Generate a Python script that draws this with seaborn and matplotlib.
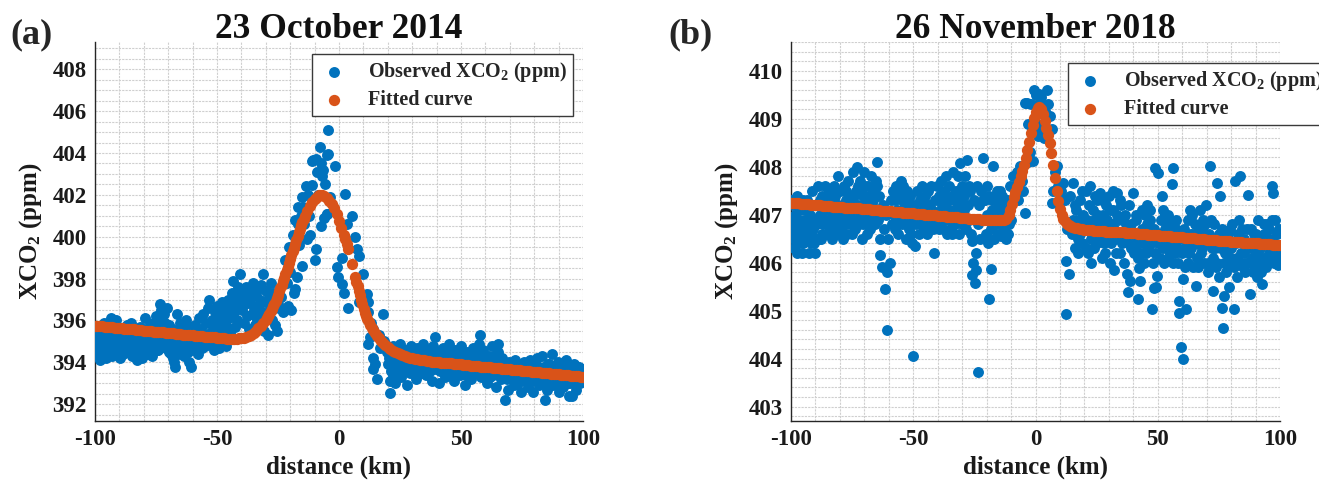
import matplotlib
matplotlib.use("Agg")
import matplotlib.pyplot as plt
from matplotlib.ticker import MultipleLocator
import seaborn as sns

# ---------------- panel (a): 23 October 2014 ----------------
# observed XCO2 soundings (distance km, ppm)
obs_a = [
    (-99.8, 394.6), (-99.5, 395.2), (-99.2, 394.3), (-98.9, 394.9), (-98.6, 395.5), (-98.3, 394.5), (-98.0, 394.1),
    (-97.7, 395.0), (-97.4, 395.7), (-97.1, 394.7), (-96.8, 394.4), (-96.5, 395.3), (-96.2, 395.9), (-95.9, 394.8),
    (-95.6, 394.2), (-95.3, 395.1), (-95.0, 394.6), (-94.7, 395.6), (-94.4, 394.9), (-94.1, 394.4), (-93.8, 395.4),
    (-93.4, 396.1), (-93.2, 395.0), (-92.9, 394.3), (-92.6, 395.8), (-92.3, 394.9), (-92.0, 395.3), (-91.7, 394.5),
    (-91.4, 396.0), (-91.1, 395.0), (-90.8, 394.6), (-90.5, 395.5), (-90.2, 394.8), (-89.9, 394.2), (-89.6, 395.2),
    (-89.3, 394.9), (-89.0, 395.6), (-88.7, 394.4), (-88.4, 395.1), (-88.1, 394.7), (-87.8, 395.4), (-87.5, 395.0),
    (-87.2, 394.5), (-86.9, 395.8), (-86.6, 394.9), (-86.3, 395.3), (-86.0, 394.6), (-85.7, 395.0), (-85.4, 395.9),
    (-85.1, 394.8), (-84.8, 394.3), (-84.5, 395.2), (-84.2, 394.6), (-83.9, 395.5), (-83.6, 394.9), (-83.3, 394.4),
    (-83.0, 395.1), (-82.7, 394.1), (-82.4, 395.4), (-82.1, 394.7), (-81.8, 395.0), (-81.5, 395.7), (-81.2, 394.5),
    (-80.9, 394.2), (-80.6, 395.3), (-80.3, 394.8), (-80.0, 395.5), (-79.7, 394.6), (-79.4, 396.1), (-79.1, 395.1),
    (-78.8, 394.4), (-78.5, 395.6), (-78.2, 394.9), (-77.9, 395.2), (-77.6, 395.8), (-77.3, 394.7), (-77.0, 395.4),
    (-76.7, 394.3), (-76.4, 395.9), (-76.1, 395.0), (-75.8, 394.8), (-75.5, 395.5), (-75.2, 396.2), (-74.9, 394.9),
    (-74.6, 395.3), (-74.3, 395.7), (-74.0, 394.6), (-73.7, 396.0), (-73.4, 396.8), (-73.1, 395.2), (-72.8, 396.5),
    (-72.5, 395.6), (-72.2, 394.9), (-71.9, 396.3), (-71.6, 395.4), (-71.3, 395.9), (-71.0, 394.7), (-70.7, 395.1),
    (-70.4, 396.6), (-70.1, 395.5), (-69.8, 394.5), (-69.5, 395.8), (-69.2, 395.0), (-68.9, 394.4), (-68.6, 394.9),
    (-68.3, 395.6), (-68.0, 394.2), (-67.7, 394.0), (-67.4, 393.8), (-67.1, 395.3), (-66.8, 394.7), (-66.5, 396.3),
    (-66.2, 395.0), (-65.9, 394.4), (-65.6, 395.5), (-65.3, 394.8), (-65.0, 395.9), (-64.7, 394.6), (-64.4, 395.2),
    (-64.1, 395.7), (-63.8, 394.9), (-63.5, 394.3), (-63.2, 395.4), (-62.9, 396.0), (-62.6, 394.7), (-62.3, 395.1),
    (-62.0, 395.6), (-61.7, 394.5), (-61.4, 394.0), (-61.1, 395.3), (-60.8, 393.8), (-60.5, 394.9), (-60.2, 395.7),
    (-99.9, 395.0), (-99.0, 394.8), (-98.1, 395.3), (-97.2, 394.9), (-96.3, 394.6), (-95.4, 395.4), (-94.5, 394.5),
    (-93.6, 394.9), (-92.7, 394.6), (-91.8, 395.1), (-90.9, 395.3), (-90.0, 394.5), (-89.1, 394.7), (-88.2, 395.3),
    (-87.3, 394.8), (-86.4, 395.1), (-85.5, 394.6), (-84.6, 395.0), (-83.7, 395.2), (-82.8, 394.8), (-81.9, 395.3),
    (-81.0, 394.9), (-80.1, 394.4), (-79.2, 395.4), (-78.3, 395.0), (-77.4, 394.5), (-76.5, 395.1), (-75.6, 395.2),
    (-74.7, 394.6), (-73.8, 395.4), (-72.9, 395.0), (-72.0, 395.5), (-71.1, 395.2), (-70.2, 394.9), (-69.3, 395.3),
    (-68.4, 395.2), (-67.5, 394.6), (-66.6, 395.1), (-65.7, 394.6), (-64.8, 395.0), (-63.9, 395.5), (-63.0, 394.6),
    (-62.1, 394.9), (-61.2, 395.0),
    (-59.8, 395.2), (-59.4, 394.6), (-59.0, 395.8), (-58.6, 394.9), (-58.2, 395.5), (-57.8, 394.4), (-57.4, 396.1),
    (-57.0, 395.0), (-56.6, 395.6), (-56.2, 394.7), (-55.8, 396.3), (-55.4, 395.3), (-55.0, 394.8), (-54.6, 395.9),
    (-54.2, 395.1), (-53.8, 396.6), (-53.4, 397.0), (-53.0, 395.4), (-52.6, 394.9), (-52.2, 396.0), (-51.8, 395.6),
    (-51.4, 394.6), (-51.0, 396.4), (-50.6, 395.2), (-50.2, 395.8), (-49.8, 396.7), (-49.4, 395.0), (-49.0, 394.7),
    (-48.6, 396.2), (-48.2, 395.5), (-47.8, 396.9), (-47.4, 395.9), (-47.0, 395.3), (-46.6, 396.5), (-46.2, 394.8),
    (-45.8, 395.7), (-45.4, 397.0), (-45.0, 396.1), (-44.6, 395.4), (-44.2, 396.8), (-43.8, 397.3), (-43.4, 397.9),
    (-43.0, 396.4), (-42.6, 395.7), (-42.2, 397.1), (-41.8, 396.0), (-41.4, 397.6), (-41.0, 396.7), (-40.6, 398.2),
    (-40.2, 397.0), (-39.8, 396.5), (-39.4, 397.3), (-39.0, 395.9), (-38.6, 396.8), (-38.2, 397.6), (-37.8, 396.2),
    (-37.4, 397.0), (-37.0, 395.6), (-36.6, 396.9), (-36.2, 397.4), (-35.8, 396.3), (-35.4, 397.8), (-35.0, 396.6),
    (-34.6, 395.8), (-34.2, 397.2), (-33.8, 396.0), (-33.4, 397.5), (-33.0, 396.7), (-32.6, 396.1), (-32.2, 397.0),
    (-31.8, 397.7), (-31.4, 396.4), (-31.0, 398.2), (-30.6, 395.5), (-30.2, 396.9), (-29.8, 397.4), (-29.4, 396.2),
    (-29.0, 395.3), (-28.6, 397.1), (-28.2, 396.5), (-27.8, 397.8), (-27.4, 396.0), (-27.0, 397.3), (-26.6, 396.6),
    (-26.2, 395.8), (-25.8, 397.0), (-25.4, 395.5), (-25.0, 396.8), (-24.4, 396.6), (-23.8, 397.1), (-22.9, 396.4),
    (-22.1, 398.9), (-21.5, 397.8), (-21.0, 396.7), (-20.5, 399.5), (-20.0, 398.3), (-19.7, 396.5), (-19.0, 400.1),
    (-18.6, 397.3), (-18.2, 400.8), (-17.9, 397.5), (-17.4, 398.1), (-17.0, 400.6), (-16.6, 401.4), (-16.2, 399.6),
    (-15.7, 401.0), (-15.1, 401.9), (-15.0, 398.6), (-14.6, 401.4), (-14.5, 400.6), (-13.4, 402.4), (-13.0, 399.9),
    (-12.6, 402.0), (-12.3, 401.0), (-11.9, 400.1), (-11.2, 402.45), (-11.1, 403.6), (-10.5, 403.65), (-10.0, 398.9),
    (-9.5, 403.7), (-9.5, 399.4), (-9.0, 403.1), (-8.6, 402.0), (-7.9, 404.3), (-7.5, 403.5), (-7.2, 400.5),
    (-6.8, 402.9), (-6.4, 403.2), (-6.2, 400.9), (-5.9, 402.5), (-5.0, 401.1), (-4.8, 403.9), (-4.8, 401.1),
    (-4.4, 405.1), (-4.4, 403.97), (-3.5, 401.9), (-1.6, 403.4), (-0.9, 398.55), (-0.5, 398.1), (1.4, 397.75),
    (2.2, 397.3), (3.8, 396.6), (1.4, 399.0), (2.5, 402.05), (3.2, 400.6), (5.2, 401.0), (6.6, 400.0),
    (8.4, 399.1), (7.5, 399.4), (9.8, 398.22), (8.4, 396.9), (11.6, 397.27), (12.0, 396.9), (12.0, 396.4),
    (13.0, 395.9), (14.0, 395.6), (17.9, 396.3), (12.0, 394.9), (12.8, 395.2), (14.0, 394.23), (14.6, 393.9),
    (14.0, 393.7), (15.6, 393.2), (16.5, 395.3), (17.0, 394.7), (18.5, 395.0), (19.5, 394.5), (21.0, 393.12),
    (21.0, 392.56), (22.0, 393.4), (20.0, 393.9),
    (20.5, 394.2), (21.5, 393.6), (22.3, 394.8), (23.0, 393.0), (23.6, 394.5), (24.2, 393.8), (24.8, 394.9),
    (25.4, 393.3), (26.0, 394.3), (26.6, 393.7), (27.2, 394.6), (27.8, 392.9), (28.4, 394.1), (29.0, 393.5),
    (29.6, 394.8), (30.2, 393.9), (30.8, 394.4), (31.4, 393.2), (32.0, 394.7), (32.6, 393.8), (33.2, 394.2),
    (33.8, 393.5), (34.4, 394.9), (35.0, 394.0), (35.6, 393.4), (36.2, 394.6), (36.8, 393.9), (37.4, 394.3),
    (38.0, 393.1), (38.6, 394.8), (39.3, 395.2), (39.8, 393.7), (40.4, 394.5), (41.0, 393.0), (41.6, 394.1),
    (42.2, 393.6), (42.8, 394.7), (43.4, 393.3), (44.0, 394.4), (44.6, 393.9), (45.2, 394.9), (45.8, 393.5),
    (46.4, 394.2), (47.0, 393.1), (47.6, 394.6), (48.2, 393.8), (48.8, 394.3), (49.4, 393.4), (50.0, 394.8),
    (50.6, 393.7), (51.2, 394.0), (51.8, 392.9), (52.4, 394.5), (53.0, 393.6), (53.6, 394.2), (54.2, 393.2),
    (54.8, 394.7), (55.4, 393.9), (56.0, 394.4), (56.6, 393.5), (57.2, 394.9), (57.8, 395.3), (58.4, 393.3),
    (59.0, 394.6), (59.6, 393.8), (60.2, 394.1), (60.8, 393.0), (61.4, 394.3), (62.0, 393.6), (62.6, 394.8),
    (63.2, 393.4), (63.8, 394.0), (64.4, 392.8), (65.0, 394.5), (65.3, 394.9), (65.8, 393.7), (66.4, 393.2),
    (67.0, 394.2), (67.6, 393.5), (68.0, 392.2), (68.6, 393.9), (69.2, 392.7), (69.8, 394.0), (70.4, 393.3),
    (71.0, 393.8), (71.6, 392.9), (72.2, 394.1), (72.8, 393.4), (73.4, 393.0), (74.0, 393.9), (74.6, 392.6),
    (75.2, 393.6), (75.8, 394.0), (76.4, 393.1), (77.0, 393.7), (77.6, 392.8), (78.2, 394.1), (78.8, 393.3),
    (79.4, 392.6), (80.0, 393.8), (80.6, 393.2), (81.2, 394.2), (81.8, 392.9), (82.4, 393.5), (83.0, 394.3),
    (83.6, 393.0), (84.4, 392.2), (84.8, 393.6), (85.4, 392.7), (86.0, 393.9), (86.6, 393.3), (87.2, 394.4),
    (87.8, 392.9), (88.4, 393.6), (89.0, 393.1), (89.6, 394.0), (90.2, 392.6), (90.8, 393.4), (91.4, 393.8),
    (92.0, 392.8), (92.6, 393.5), (93.2, 394.1), (93.8, 393.0), (94.4, 392.4), (95.0, 393.7), (95.3, 392.4),
    (95.8, 393.2), (96.4, 393.9), (97.0, 392.7), (97.6, 393.4), (98.2, 393.8), (98.8, 393.0), (99.4, 393.6),
    (99.8, 393.2),
    (20.8, 394.0), (21.8, 394.4), (22.7, 393.7), (23.3, 394.2), (24.5, 393.5), (25.1, 394.6), (25.7, 394.0),
    (26.3, 393.6), (26.9, 394.4), (27.5, 393.9), (28.1, 394.5), (28.7, 393.8), (29.3, 394.3), (29.9, 393.6),
    (30.5, 394.1), (31.1, 394.6), (31.7, 393.9), (32.3, 393.5), (32.9, 394.4), (33.5, 393.9), (34.1, 394.3),
    (34.7, 393.7), (35.3, 394.5), (35.9, 393.9), (36.5, 394.2), (37.1, 393.6), (37.7, 394.5), (38.3, 393.9),
    (39.0, 394.3), (40.1, 393.9), (40.7, 394.2), (41.3, 393.6), (41.9, 394.4), (42.5, 393.9), (43.1, 394.2),
    (43.7, 393.7), (44.3, 394.1), (44.9, 393.5), (45.5, 394.3), (46.1, 393.8), (46.7, 394.5), (47.3, 393.7),
    (47.9, 394.1), (48.5, 393.6), (49.1, 394.0), (49.7, 393.5), (50.3, 394.2), (50.9, 393.9), (51.5, 394.4),
    (52.1, 393.4), (52.7, 393.9), (53.3, 394.4), (53.9, 393.8), (54.5, 394.0), (55.1, 393.5), (55.7, 394.2),
    (56.3, 393.8), (56.9, 394.1), (57.5, 393.6), (58.1, 394.3), (58.7, 393.9), (59.3, 393.5), (59.9, 394.3),
    (60.5, 393.6), (61.1, 393.9), (61.7, 393.3), (62.3, 394.0), (62.9, 393.7), (63.5, 394.3), (64.1, 393.5),
    (64.7, 393.9), (65.5, 393.4), (66.1, 394.0), (66.7, 393.6), (67.3, 393.9), (67.9, 393.4), (68.3, 393.7),
    (68.9, 393.2), (69.5, 393.6), (70.1, 393.9), (70.7, 393.5), (71.3, 393.2), (71.9, 393.7), (72.5, 393.9),
    (73.1, 393.5), (73.7, 393.3), (74.3, 393.8), (74.9, 393.4), (75.5, 393.9), (76.1, 393.5), (76.7, 393.2),
    (77.3, 393.6), (77.9, 393.9), (78.5, 393.5), (79.1, 393.1), (79.7, 393.6), (80.3, 393.9), (80.9, 393.5),
    (81.5, 393.3), (82.1, 393.8), (82.7, 393.1), (83.3, 393.6), (83.9, 393.8), (84.1, 393.2), (85.1, 393.4),
    (85.7, 393.9), (86.3, 393.0), (86.9, 393.6), (87.5, 393.2), (88.1, 393.8), (88.7, 393.3), (89.3, 393.6),
    (89.9, 393.0), (90.5, 393.7), (91.1, 393.1), (91.7, 393.5), (92.3, 393.9), (92.9, 393.2), (93.5, 393.6),
    (94.1, 393.3), (94.7, 393.0), (95.6, 393.5), (96.1, 393.1), (96.7, 393.6), (97.3, 393.2), (97.9, 393.0),
    (98.5, 393.5), (99.1, 393.2), (99.6, 393.7),
]

# fitted plume curve (distance km, ppm)
fit_a = [
    (-100, 395.75), (-99, 395.74), (-98, 395.73), (-97, 395.72), (-96, 395.70), (-95, 395.69), (-94, 395.68),
    (-93, 395.67), (-92, 395.66), (-91, 395.65), (-90, 395.64), (-89, 395.62), (-88, 395.61), (-87, 395.60),
    (-86, 395.59), (-85, 395.58), (-84, 395.57), (-83, 395.55), (-82, 395.54), (-81, 395.53), (-80, 395.52),
    (-79, 395.51), (-78, 395.50), (-77, 395.49), (-76, 395.47), (-75, 395.46), (-74, 395.45), (-73, 395.44),
    (-72, 395.43), (-71, 395.42), (-70, 395.40), (-69, 395.39), (-68, 395.38), (-67, 395.37), (-66, 395.36),
    (-65, 395.35), (-64, 395.33), (-63, 395.32), (-62, 395.31), (-61, 395.30), (-60, 395.29), (-59, 395.28),
    (-58, 395.27), (-57, 395.25), (-56, 395.24), (-55, 395.23), (-54, 395.22), (-53, 395.21), (-52, 395.20),
    (-51, 395.19), (-50, 395.17), (-49, 395.16), (-48, 395.15), (-47, 395.14), (-46, 395.13), (-45, 395.12),
    (-44, 395.12), (-43, 395.12), (-42, 395.13), (-41, 395.14), (-40, 395.15), (-39, 395.17), (-38, 395.20),
    (-37, 395.25), (-36, 395.32), (-35, 395.41), (-34, 395.51), (-33, 395.62), (-32, 395.74), (-31, 395.87),
    (-30, 396.03), (-29.5, 396.12), (-29, 396.22), (-28.5, 396.33), (-28, 396.44), (-27.5, 396.56), (-27, 396.68),
    (-26.5, 396.81), (-26, 396.95), (-25.5, 397.09), (-25, 397.24), (-24.5, 397.39), (-24, 397.55),
    (-23.5, 397.71), (-23, 397.88), (-22.5, 398.05), (-22, 398.22), (-21.5, 398.39), (-21, 398.57),
    (-20.5, 398.75), (-20, 398.93), (-19.5, 399.11), (-19, 399.30), (-18.5, 399.48), (-18, 399.67),
    (-17.5, 399.85), (-17, 400.03), (-16.5, 400.21), (-16, 400.38), (-15.5, 400.54), (-15, 400.70),
    (-14.5, 400.85), (-14, 400.99), (-13, 401.25), (-12, 401.47), (-11, 401.65), (-10, 401.80), (-9, 401.91),
    (-8, 401.97), (-7, 401.99), (-6, 401.95), (-5, 401.86), (-4, 401.73), (-3, 401.57), (-2, 401.38),
    (-1, 401.08), (0, 400.74), (1, 400.44), (2, 400.10), (2.6, 399.88), (3.2, 399.64), (3.7, 399.43),
    (5.2, 398.72), (6.6, 398.06), (7.1, 397.85), (7.6, 397.63), (8.1, 397.42), (8.6, 397.20), (9.1, 396.98),
    (9.6, 396.77), (10.1, 396.57), (10.6, 396.38), (11.1, 396.21), (11.6, 396.06), (12.2, 395.91),
    (12.8, 395.77), (13.4, 395.64), (14.0, 395.53), (14.8, 395.39), (15.6, 395.26), (16.4, 395.14),
    (17.2, 395.03), (18.0, 394.93), (19, 394.82), (20, 394.72), (21, 394.64), (22, 394.56), (23, 394.49),
    (24, 394.43), (25, 394.38), (26, 394.34), (27, 394.30), (28, 394.26), (29, 394.23), (30, 394.20),
    (31, 394.17), (32, 394.14), (33, 394.12), (34, 394.10), (35, 394.09), (36, 394.07), (37, 394.06),
    (38, 394.04), (39, 394.03), (40, 394.02), (41, 394.01), (42, 393.99), (43, 393.98), (44, 393.97),
    (45, 393.96), (46, 393.95), (47, 393.93), (48, 393.92), (49, 393.91), (50, 393.90), (51, 393.89),
    (52, 393.88), (53, 393.86), (54, 393.85), (55, 393.84), (56, 393.83), (57, 393.82), (58, 393.80),
    (59, 393.79), (60, 393.78), (61, 393.77), (62, 393.76), (63, 393.75), (64, 393.73), (65, 393.72),
    (66, 393.71), (67, 393.70), (68, 393.69), (69, 393.68), (70, 393.66), (71, 393.65), (72, 393.64),
    (73, 393.63), (74, 393.62), (75, 393.61), (76, 393.59), (77, 393.58), (78, 393.57), (79, 393.56),
    (80, 393.55), (81, 393.53), (82, 393.52), (83, 393.51), (84, 393.50), (85, 393.49), (86, 393.48),
    (87, 393.46), (88, 393.45), (89, 393.44), (90, 393.43), (91, 393.42), (92, 393.41), (93, 393.39),
    (94, 393.38), (95, 393.37), (96, 393.36), (97, 393.35), (98, 393.33), (99, 393.32), (100, 393.31),
]

# ---------------- panel (b): 26 November 2018 ----------------
obs_b = [
    (-99.7, 406.8), (-99.3, 407.2), (-98.9, 406.5), (-98.6, 406.3), (-98.2, 407.0), (-97.8, 406.7), (-97.4, 407.4),
    (-97.0, 406.9), (-96.6, 406.4), (-96.2, 407.1), (-95.8, 406.6), (-95.4, 406.2), (-95.0, 407.3), (-94.6, 406.9),
    (-94.2, 406.5), (-93.8, 407.1), (-93.4, 407.3), (-93.0, 406.7), (-92.6, 406.2), (-92.2, 407.0), (-91.8, 406.6),
    (-91.4, 407.5), (-91.0, 406.9), (-90.6, 406.4), (-90.2, 406.2), (-89.8, 407.2), (-89.4, 406.8), (-89.0, 407.6),
    (-88.6, 406.5), (-88.2, 407.0), (-87.8, 406.5), (-87.4, 407.4), (-87.0, 406.8), (-86.6, 407.1), (-86.2, 407.6),
    (-85.8, 406.6), (-85.4, 407.3), (-85.0, 406.9), (-84.6, 407.5), (-84.2, 406.7), (-83.8, 407.2), (-83.4, 406.5),
    (-83.0, 407.0), (-82.6, 407.6), (-82.2, 406.8), (-81.8, 407.4), (-81.4, 406.6), (-81.0, 407.1), (-80.6, 407.8),
    (-80.2, 406.9), (-79.8, 407.5), (-79.4, 406.7), (-79.0, 407.2), (-78.6, 406.5), (-78.2, 407.6), (-77.8, 406.9),
    (-77.4, 407.3), (-77.0, 406.6), (-76.6, 407.7), (-76.2, 407.0), (-75.8, 406.8), (-75.4, 407.4), (-75.0, 406.6),
    (-74.6, 407.9), (-74.2, 407.1), (-73.8, 406.7), (-73.4, 407.5), (-73.1, 408.0), (-72.6, 407.2), (-72.2, 406.8),
    (-71.8, 407.7), (-71.4, 407.0), (-71.0, 406.5), (-70.6, 407.4), (-70.2, 407.9), (-69.8, 406.9), (-69.4, 407.3),
    (-69.0, 406.6), (-68.6, 407.6), (-68.2, 407.0), (-67.8, 406.7), (-67.4, 407.8), (-67.0, 407.2), (-66.6, 406.8),
    (-66.2, 407.5), (-65.8, 407.0), (-65.4, 407.7), (-65.0, 408.1), (-64.6, 406.9), (-64.2, 407.4), (-63.8, 406.5),
    (-63.6, 406.15), (-62.9, 405.9), (-62.5, 407.2), (-62.0, 406.7), (-61.6, 405.45), (-61.2, 407.0), (-60.9, 404.6),
    (-60.8, 405.8), (-60.5, 406.5), (-59.5, 406.0), (-59.2, 407.3), (-58.8, 406.8), (-58.4, 407.5), (-58.0, 407.0),
    (-57.6, 406.7), (-57.2, 407.6), (-56.8, 407.1), (-56.4, 406.6), (-56.0, 407.4), (-55.6, 407.0), (-55.2, 407.7),
    (-54.8, 406.8), (-54.4, 407.3), (-54.0, 407.6), (-53.6, 406.9), (-53.2, 407.2), (-52.8, 406.5), (-52.4, 407.5),
    (-52.0, 407.0), (-51.6, 406.7), (-51.2, 407.4), (-50.8, 406.9), (-50.4, 406.4), (-50.0, 404.05), (-49.6, 407.2),
    (-49.3, 406.35), (-48.8, 406.8), (-48.4, 407.5), (-48.0, 407.0), (-47.6, 406.6), (-47.2, 407.3), (-46.8, 406.9),
    (-46.4, 407.6), (-46.0, 407.1), (-45.6, 406.7), (-45.2, 407.4), (-44.8, 407.0), (-44.4, 406.6), (-44.0, 407.5),
    (-43.6, 407.2), (-43.2, 406.8), (-42.8, 407.6), (-42.4, 407.1), (-42.0, 406.7), (-41.4, 406.2), (-41.0, 407.3),
    (-40.6, 406.9), (-40.2, 407.6), (-39.8, 407.0), (-39.4, 407.4), (-39.0, 406.8), (-38.6, 407.7), (-38.2, 407.2),
    (-37.8, 406.7), (-37.4, 407.5), (-37.0, 407.0), (-36.6, 407.8), (-36.2, 407.3), (-35.8, 406.9), (-35.4, 407.6),
    (-35.0, 407.1), (-34.6, 406.7), (-34.2, 407.4), (-33.8, 407.9), (-33.4, 407.0), (-33.0, 406.8), (-32.6, 407.5),
    (-32.2, 407.1), (-31.8, 407.8), (-31.4, 406.6), (-31.0, 407.3), (-30.8, 408.07), (-30.4, 407.0), (-30.0, 407.6),
    (-29.6, 406.9), (-29.2, 407.4), (-28.8, 407.8), (-28.4, 406.7), (-28.1, 408.15), (-27.6, 407.2), (-27.2, 406.9),
    (-26.8, 407.5), (-26.4, 406.6), (-26.0, 406.45), (-25.8, 405.75), (-25.4, 406.0), (-25.0, 407.3), (-24.7, 405.58),
    (-24.5, 406.2), (-24.3, 405.85), (-24.0, 407.6), (-23.6, 406.8), (-23.4, 403.72), (-23.0, 407.2), (-22.6, 406.5),
    (-22.2, 407.5), (-21.8, 406.9), (-21.3, 408.19), (-20.8, 407.3), (-20.4, 406.6), (-20.0, 407.0), (-19.6, 406.4),
    (-19.2, 407.4), (-18.9, 405.25), (-18.3, 405.87), (-18.0, 406.7), (-17.6, 407.1), (-17.3, 408.01), (-16.9, 406.5),
    (-16.5, 407.3), (-16.0, 406.8), (-15.6, 407.5), (-15.2, 406.6), (-14.8, 407.2), (-14.4, 406.9), (-14.0, 406.55),
    (-13.5, 407.4), (-13.0, 406.7), (-12.5, 407.0), (-12.0, 406.5), (-11.5, 407.3), (-11.0, 406.8), (-10.5, 407.6),
    (-10.0, 406.9),
    (-99.9, 407.3), (-99.0, 406.6), (-98.4, 406.9), (-97.6, 406.2), (-96.9, 406.6), (-96.0, 406.8), (-95.2, 406.4),
    (-94.4, 406.7), (-93.6, 406.5), (-92.8, 406.9), (-92.0, 406.4), (-91.2, 406.7), (-90.4, 406.9), (-89.6, 406.5),
    (-88.8, 406.9), (-88.0, 407.3), (-87.2, 406.6), (-86.4, 406.9), (-85.6, 407.1), (-84.8, 406.6), (-84.0, 407.4),
    (-83.2, 406.8), (-82.4, 407.3), (-81.6, 406.9), (-80.8, 407.5), (-80.0, 406.6), (-79.2, 407.0), (-78.4, 406.8),
    (-77.6, 407.5), (-76.8, 406.9), (-76.0, 407.3), (-75.2, 406.9), (-74.4, 407.4), (-73.6, 406.9), (-72.8, 407.6),
    (-72.0, 407.1), (-71.2, 407.5), (-70.4, 406.8), (-69.6, 407.6), (-68.8, 406.8), (-68.0, 407.4), (-67.2, 406.9),
    (-66.4, 407.3), (-65.6, 406.8), (-64.8, 407.6), (-64.0, 407.1), (-57.4, 407.3), (-56.6, 406.9), (-55.8, 407.5),
    (-55.0, 406.9), (-54.2, 407.1), (-53.4, 407.4), (-52.6, 406.8), (-51.8, 407.2), (-51.0, 406.6), (-47.4, 407.0),
    (-46.6, 406.8), (-45.8, 407.2), (-45.0, 406.8), (-44.2, 407.2), (-43.4, 406.7), (-39.6, 406.7), (-38.8, 407.1),
    (-38.0, 406.9), (-37.2, 407.2), (-36.4, 406.6), (-35.6, 407.3), (-34.8, 407.0), (-34.0, 406.6), (-33.2, 407.3),
    (-32.4, 406.9), (-31.6, 407.2), (-30.2, 406.8), (-29.4, 407.1), (-28.6, 407.5), (-27.8, 406.9), (-27.0, 407.6),
    (-22.4, 406.9), (-21.6, 407.3), (-20.6, 406.9), (-19.8, 407.6), (-18.6, 407.0), (-17.8, 407.3), (-16.7, 406.9),
    (-15.8, 407.1), (-14.6, 407.5), (-13.2, 407.1), (-12.2, 407.3), (-11.2, 406.6), (-10.2, 407.2),
    (-9.1, 407.8), (-8.4, 407.6), (-7.7, 407.9), (-7.0, 407.3), (-6.3, 408.01), (-5.5, 407.7),
    (-5.0, 407.5), (-4.3, 407.04), (-4.3, 409.33), (-3.6, 409.33), (-3.0, 408.1), (-2.9, 408.9), (-2.4, 408.3),
    (-2.0, 409.3), (-1.5, 408.8), (-1.0, 408.75), (-0.9, 408.12), (-0.7, 409.6), (0.3, 409.5), (0.8, 408.9),
    (1.1, 408.64), (1.3, 409.52), (1.5, 409.3), (2.2, 409.45), (2.5, 408.8), (2.8, 408.7), (3.0, 408.65),
    (3.3, 408.6), (3.9, 409.16), (4.6, 409.6), (5.2, 409.3), (5.9, 409.05), (6.6, 408.78), (6.6, 407.25),
    (7.2, 407.5), (7.8, 407.9), (8.7, 408.01), (9.0, 407.6), (9.7, 407.2), (10.4, 407.5), (11.4, 407.67),
    (12.0, 407.3), (12.5, 406.03), (12.5, 404.92), (13.0, 406.7), (13.8, 405.76), (14.2, 407.4),
    (14.8, 406.6), (15.5, 407.67), (16.0, 406.3), (16.6, 407.1), (17.2, 406.5), (17.8, 406.9), (18.4, 407.3),
    (19.0, 406.4), (19.6, 407.0), (20.2, 406.7), (20.8, 407.5), (21.4, 406.2), (22.0, 406.8), (22.3, 407.6),
    (22.8, 406.5), (23.4, 407.1), (24.0, 406.3), (24.6, 406.9), (25.2, 407.3), (25.8, 406.6), (26.4, 407.46),
    (27.0, 406.1), (27.6, 407.0), (28.2, 406.4), (28.8, 407.2), (29.4, 406.7), (30.0, 407.4), (30.6, 406.0),
    (31.2, 406.8), (31.8, 407.1), (32.2, 405.85), (32.6, 406.5), (33.2, 407.46), (33.8, 406.9), (34.4, 406.2),
    (35.0, 407.2), (35.6, 406.6), (36.2, 406.0), (36.8, 407.0), (37.3, 405.76), (37.8, 406.4), (38.0, 405.39),
    (38.6, 405.62), (39.2, 406.8), (40.0, 407.46), (40.6, 406.3), (41.2, 406.9), (41.8, 406.1), (42.0, 405.24),
    (42.4, 405.88), (42.8, 405.62), (43.4, 406.7), (44.0, 406.4), (44.6, 407.0), (45.2, 406.2), (45.8, 406.8),
    (46.4, 406.5), (47.0, 407.1), (47.5, 405.04), (48.0, 406.0), (48.6, 405.48), (48.9, 407.98), (49.3, 405.5),
    (49.6, 405.72), (50.2, 407.87), (50.6, 406.6), (51.2, 406.9), (51.6, 407.39), (52.2, 406.3), (52.8, 407.0),
    (53.4, 406.5), (54.0, 406.1), (54.6, 406.8), (55.2, 406.4), (55.7, 407.63), (56.4, 407.98), (57.0, 406.2),
    (57.6, 406.7), (58.2, 406.0), (58.8, 405.21), (58.8, 404.96), (59.3, 406.5), (59.5, 404.24), (60.2, 403.99),
    (60.5, 405.65), (61.0, 406.3), (61.6, 405.03), (62.2, 406.9), (62.8, 406.2), (63.4, 406.6), (64.0, 407.0),
    (64.6, 406.4), (65.2, 406.8), (65.6, 405.51), (66.2, 406.1), (66.8, 406.7), (67.4, 407.1), (68.0, 406.3),
    (68.6, 406.9), (69.2, 406.5), (69.8, 407.2), (70.4, 406.0), (71.0, 406.6), (71.4, 408.01), (72.0, 406.3),
    (72.7, 405.41), (73.2, 406.8), (73.8, 405.9), (74.1, 407.67), (74.6, 406.4), (75.2, 405.7), (75.5, 407.39),
    (76.1, 405.06), (76.8, 404.63), (77.0, 405.3), (77.5, 406.2), (78.0, 405.8), (78.6, 406.6), (79.2, 405.5),
    (79.8, 406.1), (80.4, 406.8), (81.0, 405.9), (81.3, 405.03), (81.5, 407.7), (82.0, 406.4), (82.6, 405.7),
    (83.2, 406.9), (83.6, 407.8), (84.2, 406.2), (84.8, 405.9), (85.4, 406.5), (86.0, 406.0), (86.6, 406.7),
    (87.0, 407.42), (87.7, 405.34), (88.2, 406.3), (88.8, 405.8), (89.4, 406.6), (90.0, 406.1), (90.6, 405.7),
    (91.2, 406.9), (91.8, 406.3), (92.5, 405.55), (93.0, 406.0), (93.6, 406.6), (94.2, 405.9), (94.8, 406.8),
    (95.4, 406.2), (96.0, 406.5), (96.6, 407.6), (97.0, 407.46), (97.4, 406.0), (98.0, 406.9), (98.6, 406.3),
    (99.2, 405.95), (99.6, 406.7),
    (15.2, 406.9), (16.3, 407.2), (17.5, 406.2), (18.1, 406.6), (18.9, 407.5), (19.3, 406.8), (20.5, 406.3),
    (21.1, 406.9), (21.7, 407.2), (22.6, 406.0), (23.1, 406.6), (23.8, 406.9), (24.3, 407.4), (25.0, 406.4),
    (25.5, 407.0), (26.1, 406.8), (26.8, 406.5), (27.3, 407.3), (27.9, 406.7), (28.5, 406.2), (29.1, 406.9),
    (29.8, 406.5), (30.3, 407.1), (31.0, 406.4), (31.5, 407.5), (32.0, 406.7), (32.9, 406.2), (33.5, 407.0),
    (34.1, 406.6), (34.7, 407.3), (35.3, 406.4), (35.9, 406.9), (36.5, 406.5), (37.1, 406.8), (38.3, 407.2),
    (38.9, 406.3), (39.6, 406.6), (40.3, 406.2), (40.9, 407.0), (41.5, 406.5), (43.0, 406.2), (43.7, 407.1),
    (44.3, 406.0), (45.0, 406.6), (45.5, 407.2), (46.1, 406.3), (46.7, 406.9), (47.3, 406.4), (48.3, 406.7),
    (49.0, 406.2), (49.9, 406.4), (50.9, 406.1), (51.4, 406.5), (52.0, 407.1), (52.5, 406.0), (53.1, 406.7),
    (53.7, 406.3), (54.3, 407.0), (54.9, 406.2), (55.5, 406.6), (56.1, 406.0), (56.7, 406.4), (57.3, 406.9),
    (57.9, 406.3), (58.5, 406.6), (59.9, 406.2), (60.8, 406.7), (61.3, 405.9), (61.9, 406.5), (62.5, 406.0),
    (63.1, 407.1), (63.7, 406.3), (64.3, 405.9), (64.9, 406.6), (65.9, 406.4), (66.5, 405.9), (67.1, 406.5),
    (67.7, 406.2), (68.3, 406.7), (68.9, 406.0), (69.5, 406.8), (70.1, 406.4), (70.7, 405.8), (71.7, 406.9),
    (72.4, 406.1), (73.5, 406.3), (74.3, 406.0), (74.9, 406.6), (75.8, 406.3), (76.4, 406.7), (77.3, 406.0),
    (78.3, 406.4), (78.9, 406.0), (79.5, 406.7), (80.1, 406.3), (80.7, 406.0), (82.3, 406.1), (82.9, 406.6),
    (83.9, 406.0), (84.5, 406.7), (85.1, 406.2), (85.7, 405.8), (86.3, 406.4), (87.4, 406.0), (88.0, 406.7),
    (88.5, 406.1), (89.1, 406.4), (89.7, 405.9), (90.3, 406.6), (90.9, 406.2), (91.5, 406.5), (92.1, 405.8),
    (92.8, 406.4), (93.3, 406.8), (93.9, 406.1), (94.5, 406.4), (95.1, 406.0), (95.7, 406.7), (96.3, 406.1),
    (96.9, 406.9), (97.7, 406.4), (98.3, 406.1), (98.9, 406.6), (99.4, 406.2), (99.9, 406.0),
]

fit_b = [
    (-100, 407.25), (-99, 407.25), (-98, 407.24), (-97, 407.24), (-96, 407.23), (-95, 407.23), (-94, 407.22),
    (-93, 407.22), (-92, 407.21), (-91, 407.21), (-90, 407.21), (-89, 407.20), (-88, 407.20), (-87, 407.19),
    (-86, 407.19), (-85, 407.18), (-84, 407.18), (-83, 407.17), (-82, 407.17), (-81, 407.17), (-80, 407.16),
    (-79, 407.16), (-78, 407.15), (-77, 407.15), (-76, 407.14), (-75, 407.14), (-74, 407.13), (-73, 407.13),
    (-72, 407.13), (-71, 407.12), (-70, 407.12), (-69, 407.11), (-68, 407.11), (-67, 407.10), (-66, 407.10),
    (-65, 407.09), (-64, 407.09), (-63, 407.08), (-62, 407.08), (-61, 407.08), (-60, 407.07), (-59, 407.07),
    (-58, 407.06), (-57, 407.06), (-56, 407.05), (-55, 407.05), (-54, 407.04), (-53, 407.04), (-52, 407.04),
    (-51, 407.03), (-50, 407.03), (-49, 407.02), (-48, 407.02), (-47, 407.01), (-46, 407.01), (-45, 407.00),
    (-44, 407.00), (-43, 407.00), (-42, 406.99), (-41, 406.99), (-40, 406.98), (-39, 406.98), (-38, 406.97),
    (-37, 406.97), (-36, 406.96), (-35, 406.96), (-34, 406.96), (-33, 406.95), (-32, 406.95), (-31, 406.94),
    (-30, 406.94), (-29, 406.93), (-28, 406.93), (-27, 406.92), (-26, 406.92), (-25, 406.92), (-24, 406.91),
    (-23, 406.91), (-22, 406.90), (-21, 406.90), (-20, 406.89), (-19, 406.89), (-18, 406.89), (-17, 406.88),
    (-16, 406.88), (-15, 406.88), (-14, 406.88), (-13, 406.89), (-12, 406.92), (-11, 407.00), (-10.3, 407.10),
    (-9.6, 407.22), (-8.9, 407.36), (-8.2, 407.48), (-7.5, 407.58), (-6.8, 407.68), (-6.1, 407.80),
    (-5.4, 407.92), (-4.7, 408.04), (-4.0, 408.18), (-3.3, 408.34), (-2.6, 408.52), (-1.9, 408.70),
    (-1.2, 408.88), (-0.5, 409.02), (0.2, 409.14), (0.9, 409.22), (1.6, 409.25), (2.3, 409.20), (3.0, 409.10),
    (3.7, 408.96), (4.4, 408.80), (5.1, 408.66), (5.8, 408.50), (6.5, 408.28), (7.2, 408.03), (7.9, 407.76),
    (8.6, 407.50), (9.3, 407.28), (10.0, 407.12), (10.7, 407.00), (11.4, 406.92), (12.1, 406.86),
    (12.8, 406.81), (13.5, 406.78), (14.2, 406.76), (15, 406.74), (16, 406.73), (17, 406.72), (18, 406.71),
    (19, 406.70), (20, 406.69), (21, 406.69), (22, 406.68), (23, 406.68), (24, 406.67), (25, 406.67),
    (26, 406.67), (27, 406.66), (28, 406.66), (29, 406.65), (30, 406.65), (31, 406.65), (32, 406.64),
    (33, 406.64), (34, 406.63), (35, 406.63), (36, 406.63), (37, 406.62), (38, 406.62), (39, 406.61),
    (40, 406.61), (41, 406.61), (42, 406.60), (43, 406.60), (44, 406.59), (45, 406.59), (46, 406.58),
    (47, 406.58), (48, 406.58), (49, 406.57), (50, 406.57), (51, 406.56), (52, 406.56), (53, 406.56),
    (54, 406.55), (55, 406.55), (56, 406.54), (57, 406.54), (58, 406.53), (59, 406.53), (60, 406.53),
    (61, 406.52), (62, 406.52), (63, 406.51), (64, 406.51), (65, 406.51), (66, 406.50), (67, 406.50),
    (68, 406.49), (69, 406.49), (70, 406.48), (71, 406.48), (72, 406.48), (73, 406.47), (74, 406.47),
    (75, 406.46), (76, 406.46), (77, 406.46), (78, 406.45), (79, 406.45), (80, 406.44), (81, 406.44),
    (82, 406.43), (83, 406.43), (84, 406.43), (85, 406.42), (86, 406.42), (87, 406.41), (88, 406.41),
    (89, 406.41), (90, 406.40), (91, 406.40), (92, 406.39), (93, 406.39), (94, 406.38), (95, 406.38),
    (96, 406.38), (97, 406.37), (98, 406.37), (99, 406.36), (100, 406.36),
]

titles = ["23 October 2014", "26 November 2018"]
panel_tags = ["(a)", "(b)"]
y_ticks = [[392, 394, 396, 398, 400, 402, 404, 406, 408],
           [403, 404, 405, 406, 407, 408, 409, 410]]
x_ticks = [-100, -50, 0, 50, 100]
legend_labels = ["Observed XCO$_2$ (ppm)", "Fitted curve"]

# ---------------- styling ----------------
sns.set_theme(style="white")
plt.rcParams["font.family"] = ["Liberation Serif", "DejaVu Serif"]
plt.rcParams["font.weight"] = "bold"
plt.rcParams["axes.unicode_minus"] = False
plt.rcParams["mathtext.fontset"] = "custom"
plt.rcParams["mathtext.rm"] = "Liberation Serif:bold"
plt.rcParams["mathtext.it"] = "Liberation Serif:bold"
plt.rcParams["mathtext.bf"] = "Liberation Serif:bold"

BLUE = "#0072BD"
ORANGE = "#D95319"
AXIS_COLOR = "#262626"
GRID_COLOR = "#cfcfcf"

fig = plt.figure(figsize=(13.19, 4.83), dpi=100)
W, H = 1319.0, 483.0
ax_a = fig.add_axes([95 / W, 1 - 421 / H, 488 / W, 379 / H])
ax_b = fig.add_axes([791 / W, 1 - 421 / H, 489 / W, 379 / H])

panels = [
    (ax_a, obs_a, fit_a, (391.2, 409.3), 0.5, (312, 54)),
    (ax_b, obs_b, fit_b, (402.7, 410.6), 0.2, (1068, 63)),
]

for i, (ax, obs, fit, ylim, yminor, leg_xy) in enumerate(panels):
    ox, oy = zip(*obs)
    fx, fy = zip(*fit)
    sns.scatterplot(x=list(ox), y=list(oy), ax=ax, color=BLUE, s=62, linewidth=0,
                    label=legend_labels[0], zorder=3)
    sns.scatterplot(x=list(fx), y=list(fy), ax=ax, color=ORANGE, s=66, linewidth=0,
                    label=legend_labels[1], zorder=4)

    ax.set_xlim(-100, 100)
    ax.set_ylim(*ylim)
    ax.set_xticks(x_ticks)
    ax.set_yticks(y_ticks[i])
    ax.xaxis.set_minor_locator(MultipleLocator(10))
    ax.yaxis.set_minor_locator(MultipleLocator(yminor))
    ax.grid(which="both", color=GRID_COLOR, linestyle=(0, (2, 1)), linewidth=0.8, zorder=0)
    ax.set_axisbelow(True)

    for side in ("top", "right"):
        ax.spines[side].set_visible(False)
    for side in ("left", "bottom"):
        ax.spines[side].set_color(AXIS_COLOR)
        ax.spines[side].set_linewidth(1.0)
    ax.tick_params(which="major", direction="in", length=5, width=1.0, color=AXIS_COLOR,
                   labelsize=16.5, labelcolor="#1a1a1a", pad=6)
    ax.tick_params(which="minor", length=0)
    for lab in ax.get_xticklabels() + ax.get_yticklabels():
        lab.set_fontweight("bold")

    ax.set_xlabel("distance (km)", fontsize=18, fontweight="bold", color="#1a1a1a", labelpad=4)
    ax.set_ylabel("XCO$_2$ (ppm)", fontsize=18, fontweight="bold", color="#1a1a1a", labelpad=6)
    ax.set_title(titles[i], fontsize=25.5, fontweight="bold", color="#111111", pad=3)

    leg = ax.legend(loc="upper left", bbox_to_anchor=(leg_xy[0] / W, 1 - leg_xy[1] / H),
                    bbox_transform=fig.transFigure, frameon=True, fancybox=False,
                    framealpha=1, edgecolor="#3a3a3a", fontsize=14.5, borderpad=0.3,
                    handletextpad=0.9, labelspacing=0.3, handlelength=1.6, borderaxespad=0)
    leg.get_frame().set_linewidth(1.0)
    for t in leg.get_texts():
        t.set_fontweight("bold")

fig.text(10 / W, 1 - 43 / H, panel_tags[0], fontsize=26, fontweight="bold", va="baseline", ha="left")
fig.text(668 / W, 1 - 43 / H, panel_tags[1], fontsize=26, fontweight="bold", va="baseline", ha="left")

fig.savefig("out.png", dpi=100)
